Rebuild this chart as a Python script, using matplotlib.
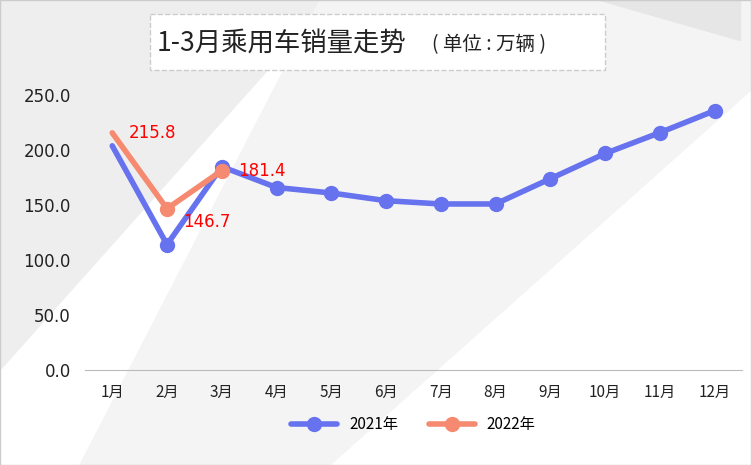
import matplotlib
matplotlib.use("Agg")
import matplotlib.pyplot as plt
from matplotlib.patches import Polygon, FancyBboxPatch

plt.rcParams["font.family"] = ["sans-serif"]
plt.rcParams["font.sans-serif"] = ["Noto Sans CJK SC", "Noto Sans CJK JP", "Noto Sans CJK TC", "DejaVu Sans"]
CJK = ["Noto Sans CJK SC", "Noto Sans CJK JP", "Noto Sans CJK TC"]

months = ["1月", "2月", "3月", "4月", "5月", "6月", "7月", "8月", "9月", "10月", "11月", "12月"]
sales_2021 = [204, 114, 185, 166, 161, 154, 151, 151, 174, 197, 216, 236]
sales_2022 = [215.8, 146.7, 181.4]
yticks = [0, 50, 100, 150, 200, 250]

fig = plt.figure(figsize=(7.51, 4.65), dpi=100)
# background shading
bg = fig.add_axes([0, 0, 1, 1])
bg.set_xlim(0, 751); bg.set_ylim(465, 0); bg.axis("off")
bg.add_patch(Polygon([[0, 0], [751, 0], [751, 465], [0, 465]], color="white"))
bg.add_patch(Polygon([[0, 0], [330, 0], [0, 370]], color="#eeeeee"))
bg.add_patch(Polygon([[320, 0], [751, 0], [751, 90], [330, 465], [80, 465]], color="#f4f4f4"))
bg.add_patch(Polygon([[600, 0], [740, 0], [740, 40]], color="#e6e6e6"))
bg.add_patch(Polygon([[0, 0], [751, 0], [751, 465], [0, 465]], fill=False, ec="#cccccc", lw=1))

ax = fig.add_axes([0.113, 0.205, 0.875, 0.59])
ax.patch.set_alpha(0)
x = list(range(len(months)))
ax.plot(x, sales_2021, color="#6672ee", lw=4, marker="o", ms=10, markevery=list(range(1, 12)),
        label="2021年", solid_capstyle="round")
ax.plot(x[:3], sales_2022, color="#f58a70", lw=4, marker="o", ms=10, markevery=[1, 2],
        label="2022年", solid_capstyle="round")
offs = [(0.3, 0), (0.3, -12), (0.3, 0)]
for xi, v, (dx, dy) in zip(x, sales_2022, offs):
    ax.text(xi + dx, v + dy, f"{v:.1f}", color="red", fontsize=12, family="DejaVu Sans", va="center")
ax.set_xlim(-0.5, 11.5)
ax.set_ylim(0, 250)
ax.set_yticks(yticks)
ax.set_yticklabels([f"{v:.1f}" for v in yticks], fontsize=12, family="DejaVu Sans", color="#222222")
ax.set_xticks(x)
ax.set_xticklabels(months, fontsize=11, color="#222222")
ax.tick_params(length=0, pad=10)
for s in ["top", "right", "left"]:
    ax.spines[s].set_visible(False)
ax.spines["bottom"].set_color("#bbbbbb")
ax.legend(loc="upper center", bbox_to_anchor=(0.5, -0.12), ncol=2, frameon=False,
          prop={"family": CJK, "size": 11}, handlelength=3)

bg.add_patch(FancyBboxPatch((150, 14), 455, 56, boxstyle="square,pad=0", fc="white",
                            ec="#cccccc", ls="--", lw=1, zorder=5))
bg.text(157, 43, "1-3月乘用车销量走势", fontsize=19, va="center", zorder=6, color="#222222", family=CJK)
bg.text(432, 45, "( 单位 : 万辆 )", fontsize=14, va="center", zorder=6, color="#222222", family=CJK)

fig.savefig("out.png", dpi=100)
